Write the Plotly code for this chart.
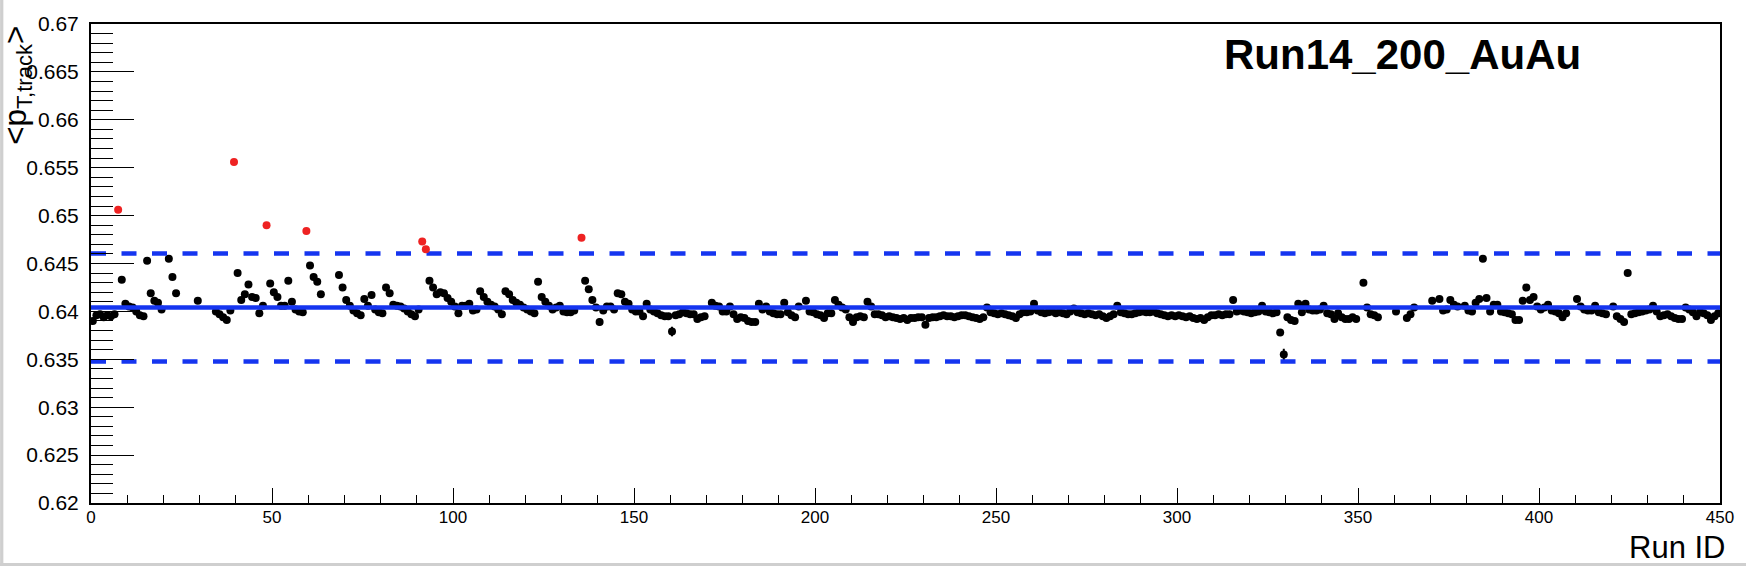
import plotly.graph_objects as go

# ---------------- data ----------------
# <pT,track> per run index 0..449 (None = run not shown)
mean_pt = [
    0.6390, 0.6396, 0.6397, 0.6394, 0.6396, 0.6395, 0.6397, 0.6506, 0.6433, 0.6408,
    0.6405, 0.6404, 0.6400, 0.6396, 0.6395, 0.6453, 0.6419, 0.6411, 0.6409, 0.6402,
    None, 0.6455, 0.6436, 0.6419, None, None, None, None, None, 0.6411,
    None, None, None, None, 0.6400, 0.6397, 0.6394, 0.6391, 0.6401, 0.6556,
    0.6440, 0.6412, 0.6418, 0.6428, 0.6415, 0.6414, 0.6398, 0.6406, 0.6490, 0.6429,
    0.6420, 0.6415, 0.6406, 0.6406, 0.6432, 0.6410, 0.6402, 0.6400, 0.6399, 0.6484,
    0.6448, 0.6436, 0.6431, 0.6418, None, None, None, None, 0.6438, 0.6425,
    0.6412, 0.6406, 0.6401, 0.6398, 0.6396, 0.6413, 0.6406, 0.6417, 0.6402, 0.6399,
    0.6398, 0.6425, 0.6419, 0.6407, 0.6406, 0.6405, 0.6403, 0.6400, 0.6397, 0.6395,
    0.6402, 0.6473, 0.6465, 0.6432, 0.6425, 0.6418, 0.6420, 0.6419, 0.6414, 0.6410,
    0.6405, 0.6398, 0.6406, 0.6406, 0.6408, 0.6401, 0.6402, 0.6421, 0.6415, 0.6410,
    0.6407, 0.6405, 0.6402, 0.6397, 0.6421, 0.6418, 0.6412, 0.6409, 0.6407, 0.6404,
    0.6402, 0.6400, 0.6398, 0.6431, 0.6415, 0.6410, 0.6406, 0.6402, 0.6404, 0.6406,
    0.6400, 0.6399, 0.6399, 0.6401, None, 0.6477, 0.6432, 0.6423, 0.6412, 0.6404,
    0.6389, 0.6401, 0.6405, 0.6405, 0.6402, 0.6419, 0.6418, 0.6410, 0.6408, 0.6402,
    0.6400, 0.6400, 0.6395, 0.6408, 0.6402, 0.6400, 0.6398, 0.6396, 0.6395, 0.6395,
    0.6379, 0.6396, 0.6397, 0.6399, 0.6398, 0.6397, 0.6397, 0.6392, 0.6394, 0.6395,
    None, 0.6409, 0.6406, 0.6405, 0.6400, 0.6400, 0.6405, 0.6397, 0.6392, 0.6394,
    0.6393, 0.6390, 0.6389, 0.6389, 0.6408, 0.6402, 0.6405, 0.6400, 0.6398, 0.6397,
    0.6397, 0.6409, 0.6399, 0.6396, 0.6394, 0.6405, None, 0.6411, 0.6400, 0.6399,
    0.6397, 0.6396, 0.6393, 0.6398, 0.6398, 0.6412, 0.6407, 0.6404, 0.6402, 0.6394,
    0.6389, 0.6394, 0.6395, 0.6394, 0.6410, 0.6405, 0.6397, 0.6397, 0.6396, 0.6394,
    0.6395, 0.6394, 0.6393, 0.6392, 0.6393, 0.6391, 0.6393, 0.6393, 0.6394, 0.6394,
    0.6386, 0.6393, 0.6394, 0.6394, 0.6395, 0.6396, 0.6395, 0.6395, 0.6394, 0.6395,
    0.6396, 0.6396, 0.6395, 0.6394, 0.6393, 0.6392, 0.6394, 0.6404, 0.6399, 0.6398,
    0.6397, 0.6398, 0.6397, 0.6396, 0.6395, 0.6393, 0.6397, 0.6399, 0.6399, 0.6400,
    0.6408, 0.6401, 0.6399, 0.6398, 0.6399, 0.6400, 0.6398, 0.6399, 0.6398, 0.6397,
    0.6400, 0.6403, 0.6399, 0.6398, 0.6397, 0.6398, 0.6397, 0.6396, 0.6397, 0.6395,
    0.6393, 0.6395, 0.6397, 0.6406, 0.6399, 0.6398, 0.6397, 0.6397, 0.6398, 0.6399,
    0.6400, 0.6399, 0.6399, 0.6400, 0.6398, 0.6397, 0.6396, 0.6395, 0.6396, 0.6395,
    0.6396, 0.6395, 0.6394, 0.6395, 0.6393, 0.6392, 0.6393, 0.6391, 0.6394, 0.6396,
    0.6396, 0.6397, 0.6396, 0.6397, 0.6397, 0.6412, 0.6400, 0.6401, 0.6400, 0.6399,
    0.6398, 0.6399, 0.6400, 0.6406, 0.6400, 0.6399, 0.6398, 0.6399, 0.6378, 0.6355,
    0.6394, 0.6391, 0.6390, 0.6408, 0.6399, 0.6408, 0.6402, 0.6401, 0.6401, 0.6402,
    0.6406, 0.6398, 0.6397, 0.6392, 0.6398, 0.6394, 0.6392, 0.6392, 0.6394, 0.6392,
    None, 0.6430, 0.6404, 0.6397, 0.6396, 0.6394, None, None, None, None,
    0.6400, None, None, 0.6393, 0.6397, 0.6404, None, None, None, None,
    0.6411, None, 0.6413, 0.6401, 0.6402, 0.6412, 0.6407, 0.6405, None, 0.6406,
    0.6401, 0.6400, 0.6409, 0.6413, 0.6455, 0.6414, 0.6400, 0.6407, 0.6407, 0.6400,
    0.6399, 0.6398, 0.6397, 0.6391, 0.6391, 0.6411, 0.6425, 0.6412, 0.6415, 0.6405,
    0.6402, 0.6404, 0.6407, 0.6401, 0.6400, 0.6398, 0.6394, 0.6398, None, None,
    0.6413, 0.6405, 0.6402, 0.6401, 0.6401, 0.6406, 0.6399, 0.6398, 0.6397, None,
    0.6405, 0.6395, 0.6392, 0.6389, 0.6440, 0.6397, 0.6398, 0.6399, 0.6400, 0.6401,
    0.6402, 0.6406, 0.6400, 0.6395, 0.6396, 0.6397, 0.6395, 0.6393, 0.6392, 0.6392,
    0.6404, 0.6402, 0.6399, 0.6395, 0.6399, 0.6398, 0.6396, 0.6391, 0.6395, 0.6398,
]

# visible statistical errors (others are hidden under the markers)
visible_errors = {43: 0.0003, 140: 0.0004, 160: 0.0005, 191: 0.0002, 247: 0.0003,
                  271: 0.0003, 329: 0.0006, 331: 0.0002, 400: 0.0002, 424: 0.0003}

mean_level = 0.64040      # solid line
band_upper = 0.64605      # dashed line (upper)
band_lower = 0.63477      # dashed line (lower)

x_range = [0, 450]
y_range = [0.62, 0.67]
y_tick_vals = [0.62, 0.625, 0.63, 0.635, 0.64, 0.645, 0.65, 0.655, 0.66, 0.665, 0.67]
y_tick_text = ["0.62", "0.625", "0.63", "0.635", "0.64", "0.645", "0.65", "0.655", "0.66", "0.665", "0.67"]
x_tick_vals = [0, 50, 100, 150, 200, 250, 300, 350, 400, 450]

title_text = "Run14_200_AuAu"
x_title = "Run ID"
y_title = "&lt;p<sub>T,track</sub>&gt;"

# ---------------- split into good / bad runs ----------------
good_x, good_y, good_e = [], [], []
bad_x, bad_y = [], []
for i, v in enumerate(mean_pt):
    if v is None:
        continue
    xc = i + 0.5
    if band_lower <= v <= band_upper:
        good_x.append(xc)
        good_y.append(v)
        good_e.append(visible_errors.get(i, 0.0))
    else:
        bad_x.append(xc)
        bad_y.append(v)

BLUE = "#1535f0"
RED = "#ee2222"

fig = go.Figure()
fig.add_trace(go.Scatter(
    x=good_x, y=good_y, mode="markers",
    marker=dict(color="black", size=8),
    error_y=dict(type="data", array=good_e, visible=True, color="black",
                 thickness=2, width=0),
    showlegend=False, hoverinfo="x+y"))

for level, dash in [(mean_level, "solid"), (band_upper, "15px,15.5px"), (band_lower, "15px,15.5px")]:
    fig.add_trace(go.Scatter(
        x=x_range, y=[level, level], mode="lines",
        line=dict(color=BLUE, width=4.5, dash=dash),
        showlegend=False, hoverinfo="skip"))

fig.add_trace(go.Scatter(
    x=bad_x, y=bad_y, mode="markers",
    marker=dict(color=RED, size=8),
    showlegend=False, hoverinfo="x+y"))

FONT = "Liberation Sans, Arial, Helvetica, sans-serif"

fig.update_layout(
    width=1746, height=566,
    margin=dict(l=91, r=19, t=24, b=63, pad=0),
    paper_bgcolor="white", plot_bgcolor="white",
    font=dict(family=FONT, color="black"),
    xaxis=dict(
        range=x_range, showgrid=False, zeroline=False,
        showline=True, linecolor="black", linewidth=2, mirror=True,
        tickmode="array", tickvals=x_tick_vals,
        ticks="inside", ticklen=15, tickwidth=1, tickcolor="black",
        tickfont=dict(size=17, family=FONT, color="black"),
        minor=dict(dtick=10, tick0=0, ticks="inside", ticklen=8, tickwidth=1, tickcolor="black"),
        ticklabelstandoff=-2,
    ),
    yaxis=dict(
        range=y_range, showgrid=False, zeroline=False,
        showline=True, linecolor="black", linewidth=2, mirror=True,
        tickmode="array", tickvals=y_tick_vals, ticktext=y_tick_text,
        ticks="inside", ticklen=43, tickwidth=1, tickcolor="black",
        tickfont=dict(size=21, family=FONT, color="black"),
        minor=dict(dtick=0.001, tick0=0.62, ticks="inside", ticklen=22, tickwidth=1, tickcolor="black"),
        ticklabelstandoff=6,
    ),
    annotations=[
        dict(text="<b>" + title_text + "</b>", xref="paper", yref="paper",
             x=0.8054, y=0.936, xanchor="center", yanchor="middle", showarrow=False,
             font=dict(size=42, family=FONT, color="black")),
        dict(text=x_title, xref="paper", yref="paper",
             x=1.004, y=-0.092, xanchor="right", yanchor="middle", showarrow=False,
             font=dict(size=31, family=FONT, color="black")),
        dict(text=y_title, xref="paper", yref="paper", textangle=-90,
             x=-0.0452, y=1.0, xanchor="center", yanchor="top", showarrow=False,
             font=dict(size=31.5, family=FONT, color="black")),
    ],
    shapes=[
        dict(type="rect", xref="paper", yref="paper", x0=-0.0558, x1=-0.0538, y0=-0.14, y1=1.06,
             fillcolor="#cfcfcf", line=dict(width=0), layer="below"),
        dict(type="rect", xref="paper", yref="paper", x0=-0.06, x1=1.02, y0=-0.133, y1=-0.1255,
             fillcolor="#cfcfcf", line=dict(width=0), layer="below"),
    ],
)

fig.write_html(
    "out.html",
    config={"displayModeBar": False},
    post_script="document.body.style.margin='0';document.body.style.overflow='hidden';",
)
